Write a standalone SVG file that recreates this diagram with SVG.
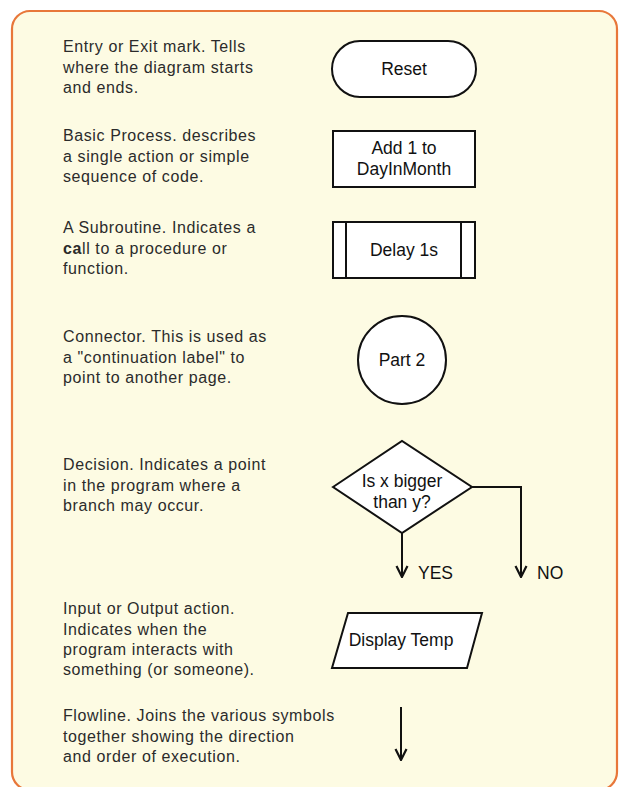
<svg xmlns="http://www.w3.org/2000/svg" width="622" height="787" viewBox="0 0 622 787">
<defs>
<style>
.desc{font-family:"Liberation Sans",Arial,sans-serif;font-size:16px;letter-spacing:0.6px;fill:#2b2b2b}
.lbl{font-family:"Liberation Sans",Arial,sans-serif;font-size:17.5px;fill:#111;text-anchor:middle}
.lbs{font-family:"Liberation Sans",Arial,sans-serif;font-size:17.5px;fill:#111;text-anchor:start}
.shape{fill:#fff;stroke:#111;stroke-width:2}
.line{fill:none;stroke:#111;stroke-width:2}
</style>
<marker id="arr" viewBox="0 0 14 14" refX="13" refY="7" markerWidth="14" markerHeight="14" markerUnits="userSpaceOnUse" orient="auto">
<path d="M2,1.5 L13,7 L2,12.5" fill="none" stroke="#111" stroke-width="2.2"/>
</marker>
</defs>
<rect x="0" y="0" width="622" height="787" fill="#fff"/>
<rect id="panel" x="12" y="11" width="605" height="779" rx="18" fill="#fdfbe3" stroke="#e8773a" stroke-width="2.2"/>

<g id="terminal">
<rect class="shape" x="332" y="41" width="144" height="56" rx="28"/>
<text class="lbl" x="404" y="75">Reset</text>
<text class="desc" x="63" y="52">Entry or Exit mark. Tells</text>
<text class="desc" x="63" y="73">where the diagram starts</text>
<text class="desc" x="63" y="93">and ends.</text>
</g>

<g id="process">
<rect class="shape" x="333" y="131" width="142" height="56"/>
<text class="lbl" x="404" y="154">Add 1 to</text>
<text class="lbl" x="404" y="175">DayInMonth</text>
<text class="desc" x="63" y="141">Basic Process. describes</text>
<text class="desc" x="63" y="162">a single action or simple</text>
<text class="desc" x="63" y="182">sequence of code.</text>
</g>

<g id="subroutine">
<rect class="shape" x="333" y="222" width="142" height="56"/>
<line class="line" x1="346" y1="222" x2="346" y2="278"/>
<line class="line" x1="461" y1="222" x2="461" y2="278"/>
<text class="lbl" x="404" y="256">Delay 1s</text>
<text class="desc" x="63" y="233">A Subroutine. Indicates a</text>
<text class="desc" x="63" y="254"><tspan font-weight="bold">ca</tspan>ll to a procedure or</text>
<text class="desc" x="63" y="274">function.</text>
</g>

<g id="connector">
<circle class="shape" cx="402" cy="360" r="44"/>
<text class="lbl" x="402" y="366">Part 2</text>
<text class="desc" x="63" y="342">Connector. This is used as</text>
<text class="desc" x="63" y="363">a "continuation label" to</text>
<text class="desc" x="63" y="383">point to another page.</text>
</g>

<g id="decision">
<polygon class="shape" points="333,487 402,441 472,487 402,533"/>
<text class="lbl" x="402" y="487">Is x bigger</text>
<text class="lbl" x="402" y="508">than y?</text>
<text class="desc" x="63" y="470">Decision. Indicates a point</text>
<text class="desc" x="63" y="491">in the program where a</text>
<text class="desc" x="63" y="511">branch may occur.</text>
</g>

<g id="io">
<polygon class="shape" points="348,613 482,613 467,668 332,668"/>
<text class="lbl" x="401" y="646">Display Temp</text>
<text class="desc" x="63" y="614">Input or Output action.</text>
<text class="desc" x="63" y="635">Indicates when the</text>
<text class="desc" x="63" y="655">program interacts with</text>
<text class="desc" x="63" y="675">something (or someone).</text>
</g>

<g id="flowline-legend">
<text class="desc" x="63" y="721">Flowline. Joins the various symbols</text>
<text class="desc" x="63" y="742">together showing the direction</text>
<text class="desc" x="63" y="762">and order of execution.</text>
</g>

<g id="connectors">
<line class="line" x1="402" y1="533" x2="402" y2="577" marker-end="url(#arr)"/>
<polyline class="line" points="472,487 521,487 521,577" marker-end="url(#arr)"/>
<line class="line" x1="401" y1="707" x2="401" y2="760" marker-end="url(#arr)"/>
<text class="lbs" x="418" y="579">YES</text>
<text class="lbs" x="537" y="579">NO</text>
</g>
</svg>
